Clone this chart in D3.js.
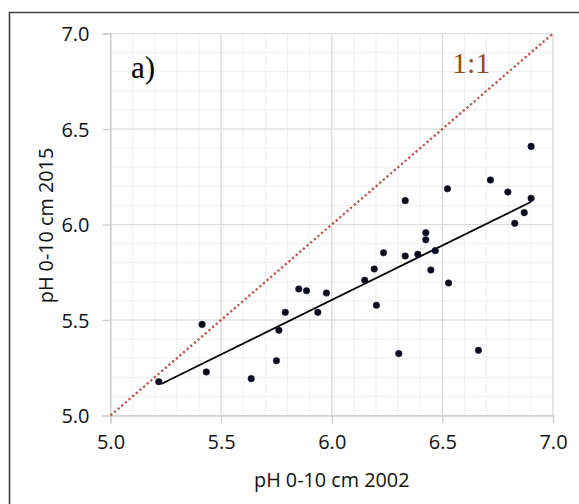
<!DOCTYPE html>
<html>
<head>
<meta charset="utf-8">
<script src="https://cdn.jsdelivr.net/npm/d3@7"></script>
<style>
  html, body { margin: 0; padding: 0; background: #fff; }
  svg { display: block; }
</style>
</head>
<body>
<svg id="chart" width="579" height="504"></svg>
<script>
// ---- data ----
const ph2002 = [5.218, 5.414, 5.433, 5.636, 5.750, 5.761, 5.790, 5.851, 5.886, 5.937, 5.976,
                6.149, 6.192, 6.202, 6.234, 6.303, 6.332, 6.332, 6.389, 6.425, 6.425, 6.448,
                6.468, 6.523, 6.528, 6.663, 6.717, 6.796, 6.827, 6.870, 6.901, 6.901];
const ph2015 = [5.177, 5.477, 5.228, 5.193, 5.287, 5.446, 5.540, 5.662, 5.653, 5.540, 5.641,
                5.708, 5.767, 5.577, 5.852, 5.324, 6.125, 5.835, 5.844, 5.957, 5.920, 5.762,
                5.863, 6.187, 5.694, 5.341, 6.233, 6.170, 6.006, 6.062, 6.137, 6.409];
const trendX = [5.229, 6.901];
const trendY = [5.165, 6.119];
const oneToOne = [5.0, 7.0];
const xTicks = [5.0, 5.5, 6.0, 6.5, 7.0];
const yTicks = [5.0, 5.5, 6.0, 6.5, 7.0];
const minorTicks = d3.range(50, 71).map(v => v / 10);
const xTitle = "pH 0-10 cm 2002";
const yTitle = "pH 0-10 cm 2015";
const panelLabel = "a)";
const lineLabel = "1:1";

// ---- layout ----
const svg = d3.select("#chart");
const pL = 110.5, pR = 553, pT = 33.5, pB = 415.5;
const x = d3.scaleLinear().domain([5, 7]).range([pL, pR]);
const y = d3.scaleLinear().domain([5, 7]).range([pB, pT]);
const font = "'Open Sans', 'Liberation Sans', sans-serif";

// outer frame (top and left visible)
svg.append("path")
  .attr("d", `M600,12.5 H9.5 V520`)
  .attr("fill", "none").attr("stroke", "#404040").attr("stroke-width", 1.6);

// minor grid
const g = svg.append("g");
g.selectAll("line.vmin").data(minorTicks).join("line")
  .attr("x1", d => x(d)).attr("x2", d => x(d)).attr("y1", pT).attr("y2", pB)
  .attr("stroke", "#eeeeee").attr("stroke-width", 1);
g.selectAll("line.hmin").data(minorTicks).join("line")
  .attr("y1", d => y(d)).attr("y2", d => y(d)).attr("x1", pL).attr("x2", pR)
  .attr("stroke", "#eeeeee").attr("stroke-width", 1);
// major grid
g.selectAll("line.vmaj").data(xTicks).join("line")
  .attr("x1", d => x(d)).attr("x2", d => x(d)).attr("y1", pT).attr("y2", pB)
  .attr("stroke", "#d9d9d9").attr("stroke-width", 1.2);
g.selectAll("line.hmaj").data(yTicks).join("line")
  .attr("y1", d => y(d)).attr("y2", d => y(d)).attr("x1", pL).attr("x2", pR)
  .attr("stroke", "#d9d9d9").attr("stroke-width", 1.2);

// axes
const xAxis = d3.axisBottom(x).tickValues(xTicks).tickFormat(d3.format(".1f")).tickSize(8).tickPadding(11);
const yAxis = d3.axisLeft(y).tickValues(yTicks).tickFormat(d3.format(".1f")).tickSize(8).tickPadding(13);
const gx = svg.append("g").attr("transform", `translate(0,${pB})`).call(xAxis);
const gy = svg.append("g").attr("transform", `translate(${pL},0)`).call(yAxis);
[gx, gy].forEach(a => {
  a.select(".domain").attr("stroke", "#cfcfcf").attr("stroke-width", 1.3);
  a.selectAll(".tick line").attr("stroke", "#cfcfcf").attr("stroke-width", 1.3);
  a.selectAll(".tick text").attr("font-family", font).attr("font-size", 20).attr("fill", "#111");
});
gy.selectAll(".tick text").attr("dy", "0.36em");

// 1:1 line
svg.append("line")
  .attr("x1", x(oneToOne[0])).attr("y1", y(oneToOne[0]))
  .attr("x2", x(oneToOne[1])).attr("y2", y(oneToOne[1]))
  .attr("stroke", "#c0504d").attr("stroke-width", 2.3)
  .attr("stroke-dasharray", "2.2,2.6");

// trend line
svg.append("line")
  .attr("x1", x(trendX[0])).attr("y1", y(trendY[0]))
  .attr("x2", x(trendX[1])).attr("y2", y(trendY[1]))
  .attr("stroke", "#000").attr("stroke-width", 1.8);

// points
svg.append("g").selectAll("circle").data(ph2002).join("circle")
  .attr("cx", d => x(d)).attr("cy", (d, i) => y(ph2015[i]))
  .attr("r", 3.3).attr("fill", "#0b0b1c").attr("stroke", "#1c2340").attr("stroke-width", 0.5);

// texts
svg.append("text").text(panelLabel)
  .attr("x", 131).attr("y", 78)
  .attr("font-family", "'Liberation Serif', 'Times New Roman', serif").attr("font-size", 31).attr("fill", "#000");
svg.append("text").text(lineLabel)
  .attr("x", 452).attr("y", 73)
  .attr("font-family", "'Liberation Serif', 'Times New Roman', serif").attr("font-size", 30).attr("fill", "#9a4a1c");

svg.append("text").text(xTitle)
  .attr("x", (pL + pR) / 2).attr("y", 487).attr("text-anchor", "middle")
  .attr("font-family", font).attr("font-size", 19.8).attr("fill", "#111");
svg.append("text").text(yTitle)
  .attr("transform", `translate(53,${(pT + pB) / 2 + 1}) rotate(-90)`)
  .attr("text-anchor", "middle")
  .attr("font-family", font).attr("font-size", 19.8).attr("fill", "#111");
</script>
</body>
</html>
